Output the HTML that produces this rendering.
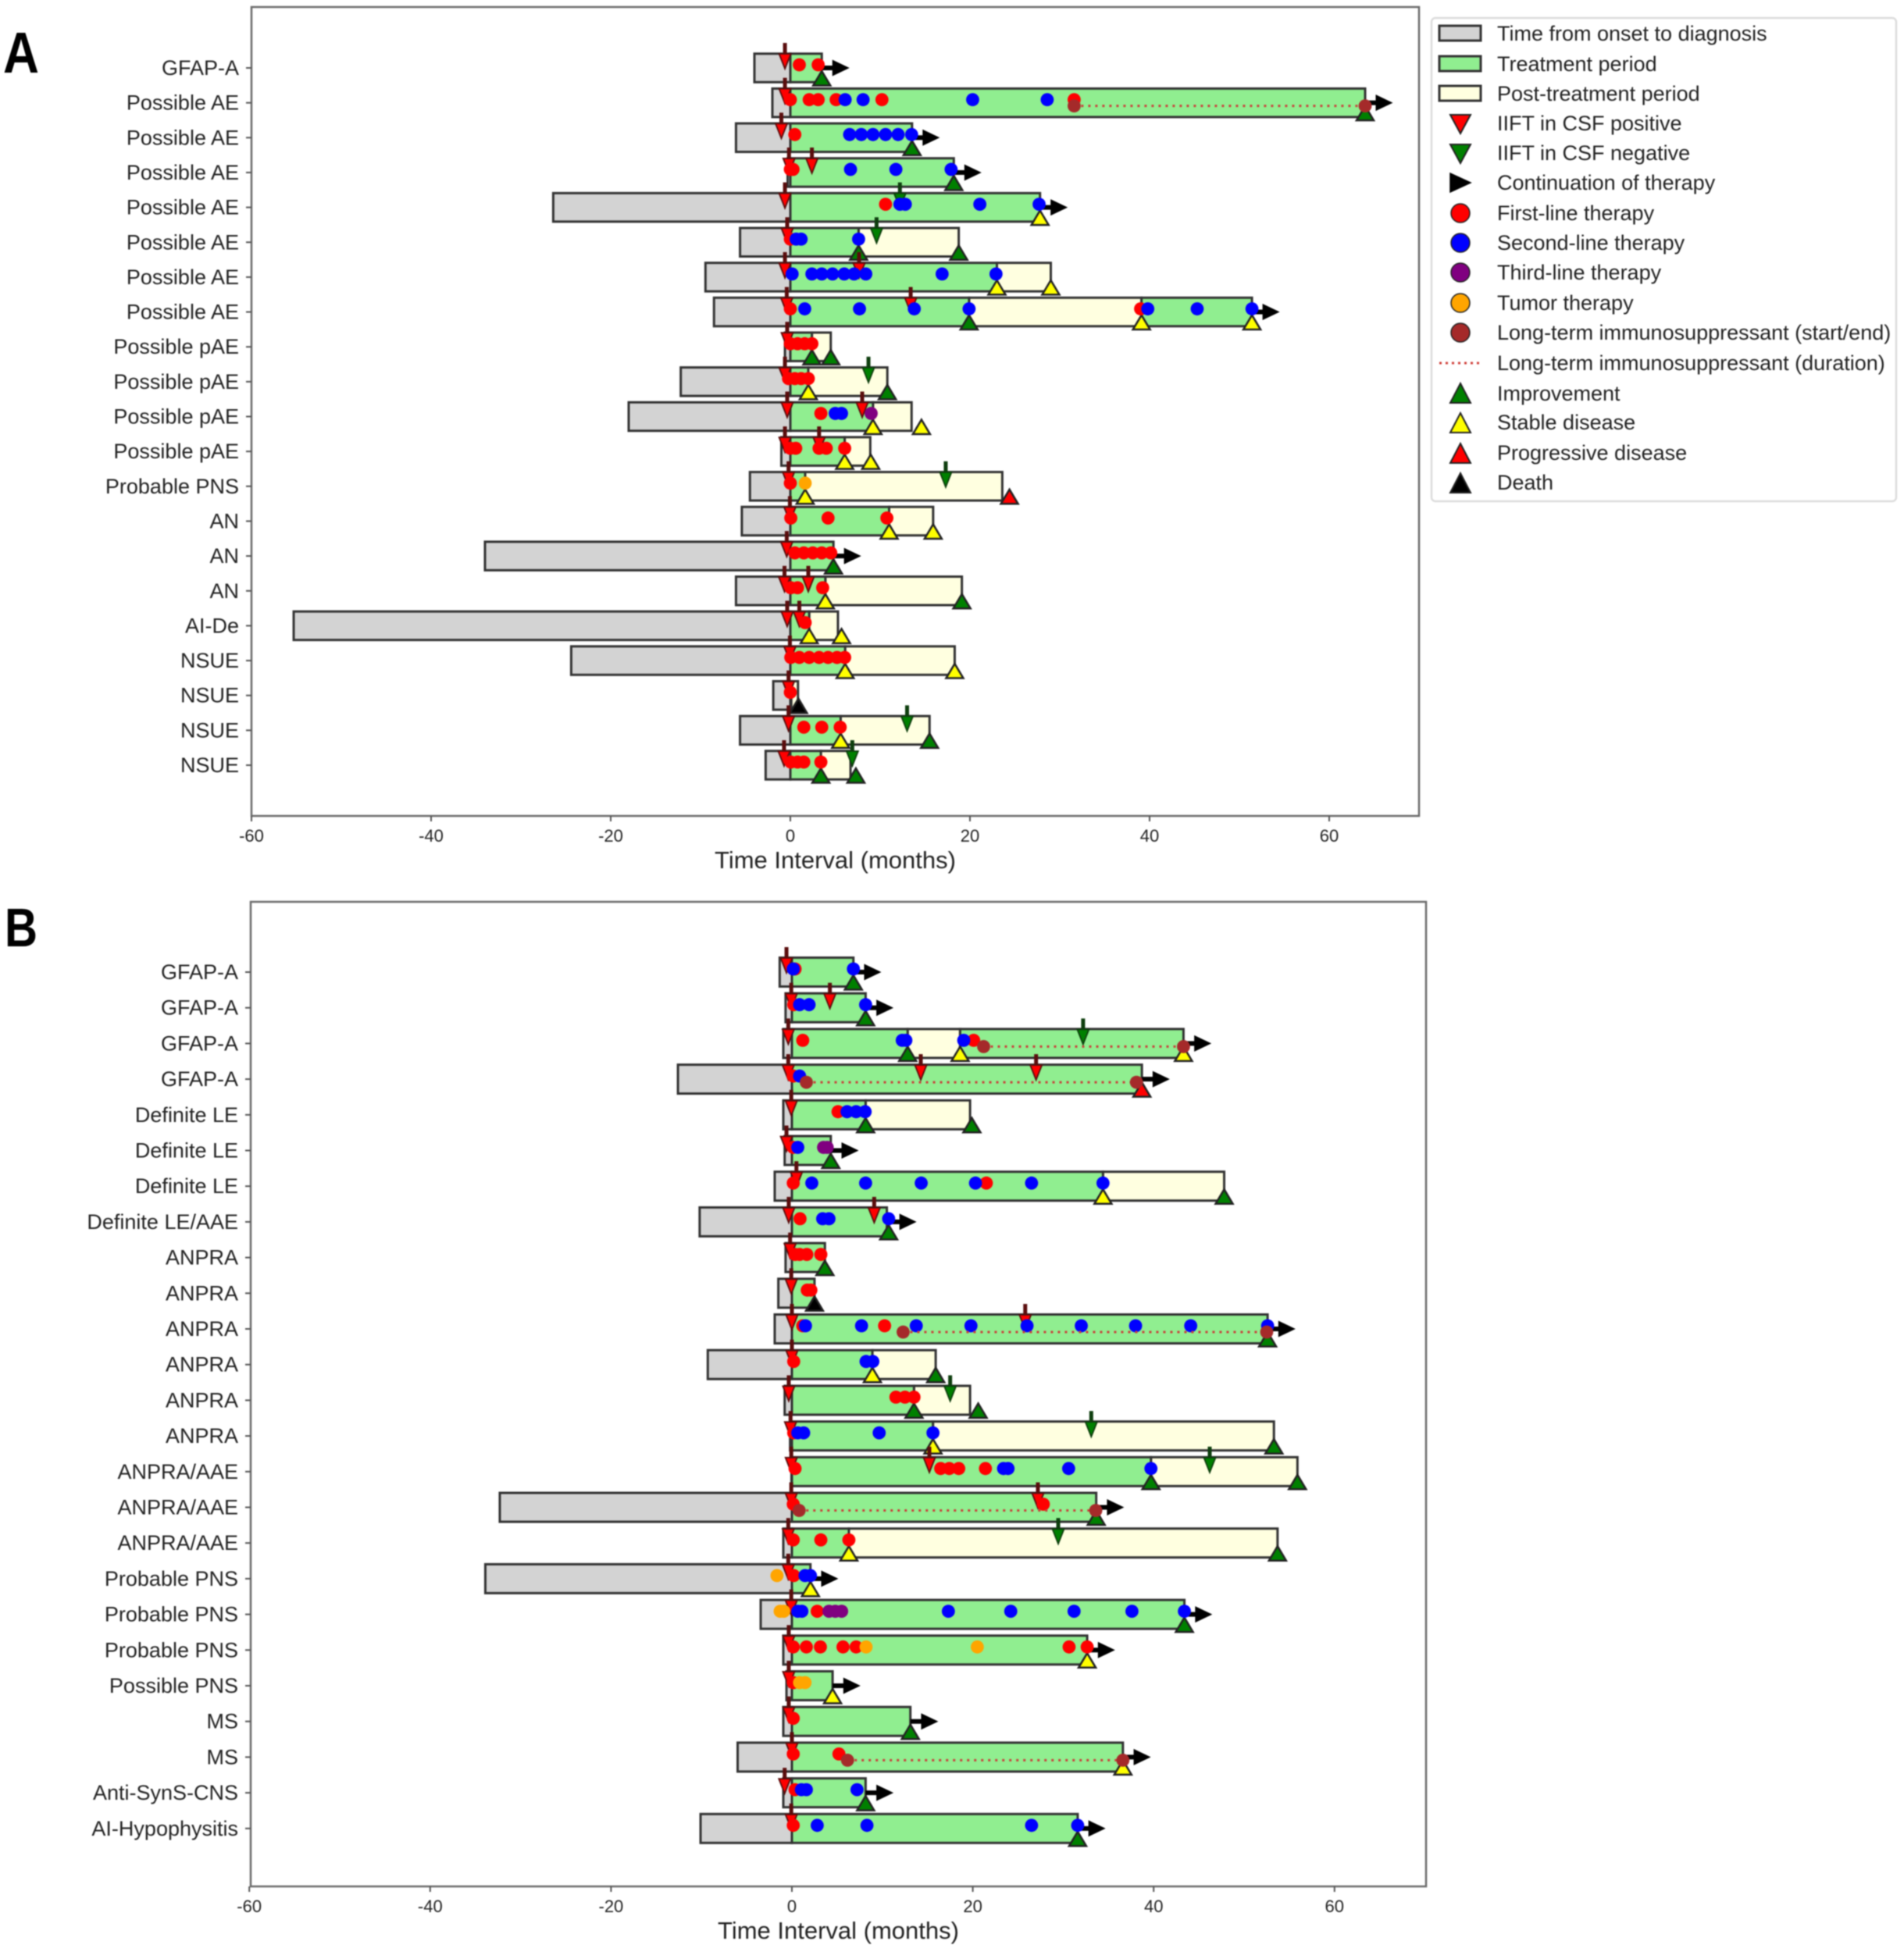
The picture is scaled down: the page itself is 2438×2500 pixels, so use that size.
<!DOCTYPE html>
<html lang="en">
<head>
<meta charset="utf-8">
<title>Patient timelines</title>
<style>
html,body{margin:0;padding:0;background:#fff}
svg{display:block;filter:blur(.8px)}
text{font-family:"Liberation Sans",Arial,sans-serif;fill:#222}
</style>
</head>
<body>
<svg id="figure" xmlns="http://www.w3.org/2000/svg" width="2438" height="2500" viewBox="0 0 2438 2500">
  <rect width="2438" height="2500" fill="#fff"/>
  <text x="4" y="93" font-size="74" font-weight="700" textLength="46" lengthAdjust="spacingAndGlyphs" style="fill:#000">A</text>
  <text x="6" y="1212" font-size="70" font-weight="700" textLength="42" lengthAdjust="spacingAndGlyphs" style="fill:#000">B</text>
  <g id="panelA"></g>
  <g id="panelB"></g>
  <g>
    <rect x="1833" y="23" width="595" height="619" rx="5" fill="#fff" stroke="#dcdcdc" stroke-width="2.5"/>
    <g><rect x="1843" y="33" width="53" height="19" fill="#d3d3d3" stroke="#333" stroke-width="3"/><text x="1917" y="52" font-size="27">Time from onset to diagnosis</text></g>
    <g><rect x="1843" y="72" width="53" height="19" fill="#90ee90" stroke="#333" stroke-width="3"/><text x="1917" y="91" font-size="27">Treatment period</text></g>
    <g><rect x="1843" y="110" width="53" height="19" fill="#ffffe0" stroke="#333" stroke-width="3"/><text x="1917" y="129" font-size="27">Post-treatment period</text></g>
    <g><path d="M1857 147H1883L1870 171Z" fill="#f00" stroke="#222" stroke-width="2"/><text x="1917" y="167" font-size="27">IIFT in CSF positive</text></g>
    <g><path d="M1857 185H1883L1870 209Z" fill="#008000" stroke="#222" stroke-width="2"/><text x="1917" y="205" font-size="27">IIFT in CSF negative</text></g>
    <g><path d="M1857 222L1883 234L1857 246Z" fill="#000" stroke="#000" stroke-width="1.5"/><text x="1917" y="243" font-size="27">Continuation of therapy</text></g>
    <g><circle cx="1870" cy="273" r="12" fill="#f00" stroke="#222" stroke-width="1.5"/><text x="1917" y="282" font-size="27">First-line therapy</text></g>
    <g><circle cx="1870" cy="311" r="12" fill="#00f" stroke="#222" stroke-width="1.5"/><text x="1917" y="320" font-size="27">Second-line therapy</text></g>
    <g><circle cx="1870" cy="349" r="12" fill="#800080" stroke="#222" stroke-width="1.5"/><text x="1917" y="358" font-size="27">Third-line therapy</text></g>
    <g><circle cx="1870" cy="388" r="12" fill="#ffa500" stroke="#222" stroke-width="1.5"/><text x="1917" y="397" font-size="27">Tumor therapy</text></g>
    <g><circle cx="1870" cy="426" r="12" fill="#a52a2a" stroke="#222" stroke-width="1.5"/><text x="1917" y="435" font-size="27">Long-term immunosuppressant (start/end)</text></g>
    <g><line x1="1843" y1="465" x2="1896" y2="465" stroke="#d0403a" stroke-width="3" stroke-dasharray="3 5"/><text x="1917" y="474" font-size="27">Long-term immunosuppressant (duration)</text></g>
    <g><path d="M1870 491L1883 516H1857Z" fill="#008000" stroke="#222" stroke-width="2"/><text x="1917" y="513" font-size="27">Improvement</text></g>
    <g><path d="M1870 529L1883 554H1857Z" fill="#ff0" stroke="#222" stroke-width="2"/><text x="1917" y="550" font-size="27">Stable disease</text></g>
    <g><path d="M1870 568L1883 593H1857Z" fill="#f00" stroke="#222" stroke-width="2"/><text x="1917" y="589" font-size="27">Progressive disease</text></g>
    <g><path d="M1870 606L1883 631H1857Z" fill="#000" stroke="#222" stroke-width="2"/><text x="1917" y="627" font-size="27">Death</text></g>
  </g>
</svg>
<script>
const xTickValues = [-60, -40, -20, 0, 20, 40, 60];
const xAxisTitle = "Time Interval (months)";

/* ---------- Panel A ---------- */
const aCategories = ["GFAP-A","Possible AE","Possible AE","Possible AE","Possible AE","Possible AE","Possible AE","Possible AE","Possible pAE","Possible pAE","Possible pAE","Possible pAE","Probable PNS","AN","AN","AN","AI-De","NSUE","NSUE","NSUE","NSUE"];
const aOnset = [-4,-2,-6.05,-0.3,-26.4,-5.6,-9.45,-8.5,-0.6,-12.2,-18,-1,-4.5,-5.4,-34,-6.05,-55.3,-24.4,-1.9,-5.6,-2.75];
const aTreatment = [[[0,3.5]],[[0,64]],[[0,13.55]],[[0,18.2]],[[0,27.8]],[[0,7.6]],[[0,23]],[[0,19.9],[39.1,51.4]],[[0,2.4]],[[0,2]],[[0,9.2]],[[0,6.05]],[[0,1.65]],[[0,11]],[[0,4.8]],[[0,3.9]],[[0,2.1]],[[0,6.1]],[[0,0.1]],[[0,5.6]],[[0,3.4]]];
const aPost = [[],[],[],[],[],[[7.6,18.75]],[[23,29]],[[19.9,39.1]],[[2.4,4.5]],[[2,10.8]],[[9.2,13.5]],[[6.05,8.9]],[[1.65,23.6]],[[11,15.9]],[],[[3.9,19.1]],[[2.1,5.3]],[[6.1,18.3]],[[0.1,0.85]],[[5.6,15.5]],[[3.4,6.7]]];
const aIiftPositive = [[-0.6],[-0.6],[-1],[-0.15,2.4],[-0.6],[-0.35],[-0.6,7.65],[-0.4,13.4],[-0.35],[-0.6],[-0.35,8],[-0.6,3.2],[-0.2],[-0.05],[-0.4],[-0.65,2],[-0.35,1],[-0.05],[-0.2],[-0.2],[-0.7]];
const aIiftNegative = [[],[],[],[],[12.2],[9.6],[],[],[],[8.7],[],[],[17.3],[],[],[],[],[],[],[13],[6.9]];
const aFirstLine = [[1,3.1],[0,2.1,3.1,5.1,10.2,31.6],[0.5],[0,0.3],[10.6],[0],[],[0,39],[0,0.8,1.6,2.4],[-0.2,0.5,1.2,2],[3.4],[0,0.6,3.2,4,6.05],[0],[0.05,4.2,10.75],[0.5,1.5,2.5,3.5,4.5],[0.05,0.8,3.6],[1.65],[0.05,1,2.1,3.2,4.2,5.2,6.05],[0],[1.5,3.5,5.55],[0.05,0.8,1.5,3.4]];
const aSecondLine = [[],[6.1,8.1,20.3,28.6],[6.6,7.9,9.2,10.6,12,13.5],[6.7,11.75,17.9],[12.2,12.8,21.1,27.7],[0.65,1.2,7.6],[0.2,2.4,3.5,4.7,6,7.1,8.4,16.9,22.9],[1.6,7.7,13.8,19.9,39.8,45.3,51.4],[],[],[5,5.7],[],[],[],[],[],[],[],[],[],[]];
const aThirdLine = [[],[],[],[],[],[],[],[],[],[],[9],[],[],[],[],[],[],[],[],[],[]];
const aTumor = [[],[],[],[],[],[],[],[],[],[],[],[],[1.65],[],[],[],[],[],[],[],[]];
const aLongTerm = [[],[31.6,64],[],[],[],[],[],[],[],[],[],[],[],[],[],[],[],[],[],[],[]];
const aContinuation = [[3.5],[64],[13.55],[18.2],[27.8],[],[],[51.4],[],[],[],[],[],[],[4.8],[],[],[],[],[],[]];
const aImprovement = [[3.5],[64],[13.55],[18.2],[],[7.6,18.75],[],[19.9],[2.4,4.5],[10.8],[],[],[],[],[4.8],[19.1],[],[],[],[15.5],[3.4,7.3]];
const aStable = [[],[],[],[],[27.8],[],[23,29],[39.1,51.4],[],[2],[9.2,14.6],[6.05,8.95],[1.65],[11,15.9],[],[3.9],[2.1,5.7],[6.1,18.3],[],[5.6],[]];
const aProgressive = [[],[],[],[],[],[],[],[],[],[],[],[],[24.4],[],[],[],[],[],[],[],[]];
const aDeath = [[],[],[],[],[],[],[],[],[],[],[],[],[],[],[],[],[],[],[0.9],[],[]];

/* ---------- Panel B ---------- */
const bCategories = ["GFAP-A","GFAP-A","GFAP-A","GFAP-A","Definite LE","Definite LE","Definite LE","Definite LE/AAE","ANPRA","ANPRA","ANPRA","ANPRA","ANPRA","ANPRA","ANPRA/AAE","ANPRA/AAE","ANPRA/AAE","Probable PNS","Probable PNS","Probable PNS","Possible PNS","MS","MS","Anti-SynS-CNS","AI-Hypophysitis"];
const bOnset = [-1.35,-0.7,-0.95,-12.6,-0.95,-0.8,-1.9,-10.2,-0.7,-1.5,-1.9,-9.3,-0.8,-0.2,-0.05,-32.3,-0.95,-33.9,-3.45,-0.95,-0.6,-0.95,-6,-0.95,-10.1];
const bTreatment = [[[0,6.8]],[[0,8.15]],[[0,12.8],[18.6,43.3]],[[0,38.7]],[[0,8.15]],[[0,4.3]],[[0,34.4]],[[0,10.5]],[[0,3.65]],[[0,2.5]],[[0,52.6]],[[0,8.9]],[[0,13.5]],[[0,15.6]],[[0,39.7]],[[0,33.65]],[[0,6.3]],[[0,2.05]],[[0,43.4]],[[0,32.65]],[[0,4.5]],[[0,13.1]],[[0,36.6]],[[0,8.15]],[[0,31.6]]];
const bPost = [[],[],[[12.8,18.6]],[],[[8.15,19.7]],[],[[34.4,47.8]],[],[],[],[],[[8.9,15.9]],[[13.5,19.7]],[[15.6,53.3]],[[39.7,55.9]],[],[[6.3,53.7]],[],[],[],[],[],[],[],[]];
const bIiftPositive = [[-0.6],[-0.07,4.2],[-0.4],[-0.4,14.25,27],[-0.07],[-0.6],[0.5],[-0.35,9.1],[-0.2],[-0.07],[0,25.8],[0],[-0.35],[-0.15],[-0.07,15.2],[-0.07,27.2],[-0.4],[-0.4],[-0.07],[-0.35],[-0.35],[-0.35],[0],[-0.8],[-0.07]];
const bIiftNegative = [[],[],[32.2],[],[],[],[],[],[],[],[],[],[17.5],[33.1],[46.2],[],[29.45],[],[],[],[],[],[],[],[]];
const bFirstLine = [[0.35],[0.2],[1.2,20.1],[0.15],[5.1],[0.15],[0.15,21.5],[0.9],[0.35,0.85,1.65,3.2],[1.7,2.1],[1.2,10.25],[0.2],[11.5,12.5,13.5],[0.2],[0.35,16.45,17.4,18.45,21.4],[0.15,27.8],[0.15,3.2,6.3],[0.2],[2.8],[0.15,1.6,3.15,5.65,7.1,30.65,32.65],[0.15],[0.15],[0.15,5.2],[0.35],[0.15]];
const bSecondLine = [[0.15,6.8],[0.85,1.9,8.15],[12.2,12.6,19],[0.85],[6.1,7.1,8.1],[0.65],[2.2,8.15,14.3,20.3,26.5,34.4],[3.4,4.1,10.7],[],[],[1.5,7.7,13.75,19.8,26,32,38,44.1,52.6],[8.2,8.95],[],[0.65,1.3,9.65,15.6],[23.4,23.9,30.6,39.7],[],[],[1.45,2.05],[0.65,1.1,17.3,24.2,31.2,37.6,43.4],[],[],[],[],[1.05,1.6,7.2],[2.8,8.3,26.5,31.6]];
const bThirdLine = [[],[],[],[],[],[3.5,3.9],[],[],[],[],[],[],[],[],[],[],[],[],[4.1,4.8,5.5],[],[],[],[],[],[]];
const bTumor = [[],[],[],[],[],[],[],[],[],[],[],[],[],[],[],[],[],[-1.65],[-1.3,-0.9],[8.2,20.5],[0.85,1.45],[],[],[],[]];
const bLongTerm = [[],[],[21.2,43.3],[1.6,38.1],[],[],[],[],[],[],[12.3,52.5],[],[],[],[],[0.8,33.6],[],[],[],[],[],[],[6.15,36.6],[],[]];
const bContinuation = [[6.8],[8.15],[43.3],[38.7],[],[4.3],[],[10.7],[],[],[52.6],[],[],[],[],[33.65],[],[2.05],[43.4],[32.65],[4.5],[13.1],[36.6],[8.15],[31.6]];
const bImprovement = [[6.8],[8.15],[12.8],[],[8.15,19.9],[4.3],[47.8],[10.7],[3.65],[],[52.6],[15.9],[13.5,20.6],[53.3],[39.7,55.9],[33.65],[53.7],[],[43.4],[],[],[13.1],[],[8.15],[31.6]];
const bStable = [[],[],[18.6,43.3],[],[],[],[34.4],[],[],[],[],[8.9],[],[15.6],[],[],[6.3],[2.05],[],[32.65],[4.5],[],[36.6],[],[]];
const bProgressive = [[],[],[],[38.7],[],[],[],[],[],[],[],[],[],[],[],[],[],[],[],[],[],[],[],[],[]];
const bDeath = [[],[],[],[],[],[],[],[],[],[2.5],[],[],[],[],[],[],[],[],[],[],[],[],[],[],[]];

const SVG_NS = "http://www.w3.org/2000/svg";

function shape(parent, tag, attrs) {
  const el = document.createElementNS(SVG_NS, tag);
  for (const k in attrs) el.setAttribute(k, attrs[k]);
  parent.appendChild(el);
  return el;
}

function drawBar(g, x1, x2, cy, h, fill, name) {
  const el = shape(g, "rect", {x: x1, y: cy - h / 2, width: Math.max(x2 - x1, 0), height: h, fill: fill, stroke: "#333", "stroke-width": 3});
  
  
}

function drawDot(g, x, cy, fill, name) {
  const el = shape(g, "circle", {cx: x, cy: cy, r: 8.4, fill: fill});
  
  
}

function drawOutcome(g, x, cy, fill, name) {
  const d = "M" + x + " " + (cy + 4) + "L" + (x + 11) + " " + (cy + 22.5) + "H" + (x - 11) + "Z";
  const el = shape(g, "path", {d: d, fill: fill, stroke: "#222", "stroke-width": 2.5, "stroke-linejoin": "miter"});
  
  
}

function drawIift(g, x, cy, fill, dark, name) {
  const wrap = shape(g, "g", {});
  
  
  shape(wrap, "rect", {x: x - 2.5, y: cy - 32, width: 5, height: 16, fill: dark});
  shape(wrap, "path", {d: "M" + (x - 7.5) + " " + (cy - 18) + "H" + (x + 7.5) + "L" + x + " " + (cy + 1) + "Z", fill: fill, stroke: dark, "stroke-width": 1.8});
}

function drawArrow(g, x1, x2, cy) {
  const wrap = shape(g, "g", {});
  
  
  shape(wrap, "rect", {x: x1, y: cy - 3, width: x2 - x1 - 18, height: 6, fill: "#000"});
  shape(wrap, "path", {d: "M" + (x2 - 21) + " " + (cy - 10.5) + "L" + (x2 + 1) + " " + cy + "L" + (x2 - 21) + " " + (cy + 10.5) + "Z", fill: "#000"});
}

function drawLongTerm(g, x1, x2, cy) {
  const line = shape(g, "line", {x1: x1, y1: cy, x2: x2, y2: cy, stroke: "#c9423c", "stroke-width": 3, "stroke-dasharray": "3 6"});
  
  
  const start = shape(g, "circle", {cx: x1, cy: cy, r: 8.4, fill: "#a52a2a"});
  
  
  const end = shape(g, "circle", {cx: x2, cy: cy, r: 8.4, fill: "#a52a2a"});
  
  
}

function drawPanel(g, frame, d) {
  const xScale = function (v) { return frame.x0 + v * frame.pxPerMonth; };
  const yScale = function (i) { return frame.yFirst + i * frame.rowStep; };

  /* axis frame */
  const spine = shape(g, "rect", {x: frame.left, y: frame.top, width: frame.right - frame.left, height: frame.bottom - frame.top, fill: "#fff", stroke: "#6a6a6a", "stroke-width": 2.5});
  
  

  /* x ticks */
  xTickValues.forEach(function (v) {
    const x = xScale(v);
    const tick = shape(g, "line", {x1: x, y1: frame.bottom, x2: x, y2: frame.bottom + 7, stroke: "#555", "stroke-width": 2});
    
    
    const label = shape(g, "text", {x: x, y: frame.bottom + 33, "font-size": 22, "text-anchor": "middle"});
    label.textContent = String(v);
    
    
  });
  const title = shape(g, "text", {x: (frame.left + frame.right) / 2, y: frame.bottom + 67, "font-size": 31, "text-anchor": "middle"});
  title.textContent = xAxisTitle;
  
  

  /* y ticks and labels */
  d.categories.forEach(function (name, i) {
    const y = yScale(i);
    const tick = shape(g, "line", {x1: frame.left - 7, y1: y, x2: frame.left, y2: y, stroke: "#555", "stroke-width": 2});
    
    
    const label = shape(g, "text", {x: frame.left - 16, y: y + 9, "font-size": 27, "text-anchor": "end"});
    label.textContent = name;
    
    
  });

  /* bars */
  d.categories.forEach(function (name, i) {
    const y = yScale(i);
    drawBar(g, xScale(d.onset[i]), xScale(0), y, frame.barHeight, "#d3d3d3", "onset-to-diagnosis-bar");
    d.post[i].forEach(function (s) { drawBar(g, xScale(s[0]), xScale(s[1]), y, frame.barHeight, "#ffffe0", "post-treatment-bar"); });
    d.treatment[i].forEach(function (s) { drawBar(g, xScale(s[0]), xScale(s[1]), y, frame.barHeight, "#90ee90", "treatment-bar"); });
  });

  /* markers, layer by layer */
  d.continuation.forEach(function (list, i) { list.forEach(function (v) { drawArrow(g, xScale(v), xScale(v + 3), yScale(i)); }); });
  d.improvement.forEach(function (list, i) { list.forEach(function (v) { drawOutcome(g, xScale(v), yScale(i), "#008000", "improvement-marker"); }); });
  d.stable.forEach(function (list, i) { list.forEach(function (v) { drawOutcome(g, xScale(v), yScale(i), "#ffff00", "stable-disease-marker"); }); });
  d.progressive.forEach(function (list, i) { list.forEach(function (v) { drawOutcome(g, xScale(v), yScale(i), "#ff0000", "progressive-disease-marker"); }); });
  d.death.forEach(function (list, i) { list.forEach(function (v) { drawOutcome(g, xScale(v), yScale(i), "#000000", "death-marker"); }); });
  d.iiftPositive.forEach(function (list, i) { list.forEach(function (v) { drawIift(g, xScale(v), yScale(i), "#ff0000", "#5a0d0d", "iift-positive-marker"); }); });
  d.iiftNegative.forEach(function (list, i) { list.forEach(function (v) { drawIift(g, xScale(v), yScale(i), "#008000", "#0e3e0e", "iift-negative-marker"); }); });
  d.firstLine.forEach(function (list, i) { list.forEach(function (v) { drawDot(g, xScale(v), yScale(i) - 4, "#ff0000", "first-line-dot"); }); });
  d.secondLine.forEach(function (list, i) { list.forEach(function (v) { drawDot(g, xScale(v), yScale(i) - 4, "#0000ff", "second-line-dot"); }); });
  d.thirdLine.forEach(function (list, i) { list.forEach(function (v) { drawDot(g, xScale(v), yScale(i) - 4, "#800080", "third-line-dot"); }); });
  d.tumor.forEach(function (list, i) { list.forEach(function (v) { drawDot(g, xScale(v), yScale(i) - 4, "#ffa500", "tumor-therapy-dot"); }); });
  d.longTerm.forEach(function (pair, i) { if (pair.length) drawLongTerm(g, xScale(pair[0]), xScale(pair[1]), yScale(i) + 4); });
}

drawPanel(document.getElementById("panelA"),
  {left: 322, right: 1817, top: 9, bottom: 1045, x0: 1012, pxPerMonth: 11.5, yFirst: 87, rowStep: 44.65, barHeight: 36.5},
  {categories: aCategories, onset: aOnset, treatment: aTreatment, post: aPost, iiftPositive: aIiftPositive, iiftNegative: aIiftNegative, firstLine: aFirstLine, secondLine: aSecondLine, thirdLine: aThirdLine, tumor: aTumor, longTerm: aLongTerm, continuation: aContinuation, improvement: aImprovement, stable: aStable, progressive: aProgressive, death: aDeath});

drawPanel(document.getElementById("panelB"),
  {left: 321, right: 1826, top: 1155, bottom: 2416, x0: 1014, pxPerMonth: 11.58, yFirst: 1245, rowStep: 45.7, barHeight: 37},
  {categories: bCategories, onset: bOnset, treatment: bTreatment, post: bPost, iiftPositive: bIiftPositive, iiftNegative: bIiftNegative, firstLine: bFirstLine, secondLine: bSecondLine, thirdLine: bThirdLine, tumor: bTumor, longTerm: bLongTerm, continuation: bContinuation, improvement: bImprovement, stable: bStable, progressive: bProgressive, death: bDeath});
</script>
</body>
</html>
